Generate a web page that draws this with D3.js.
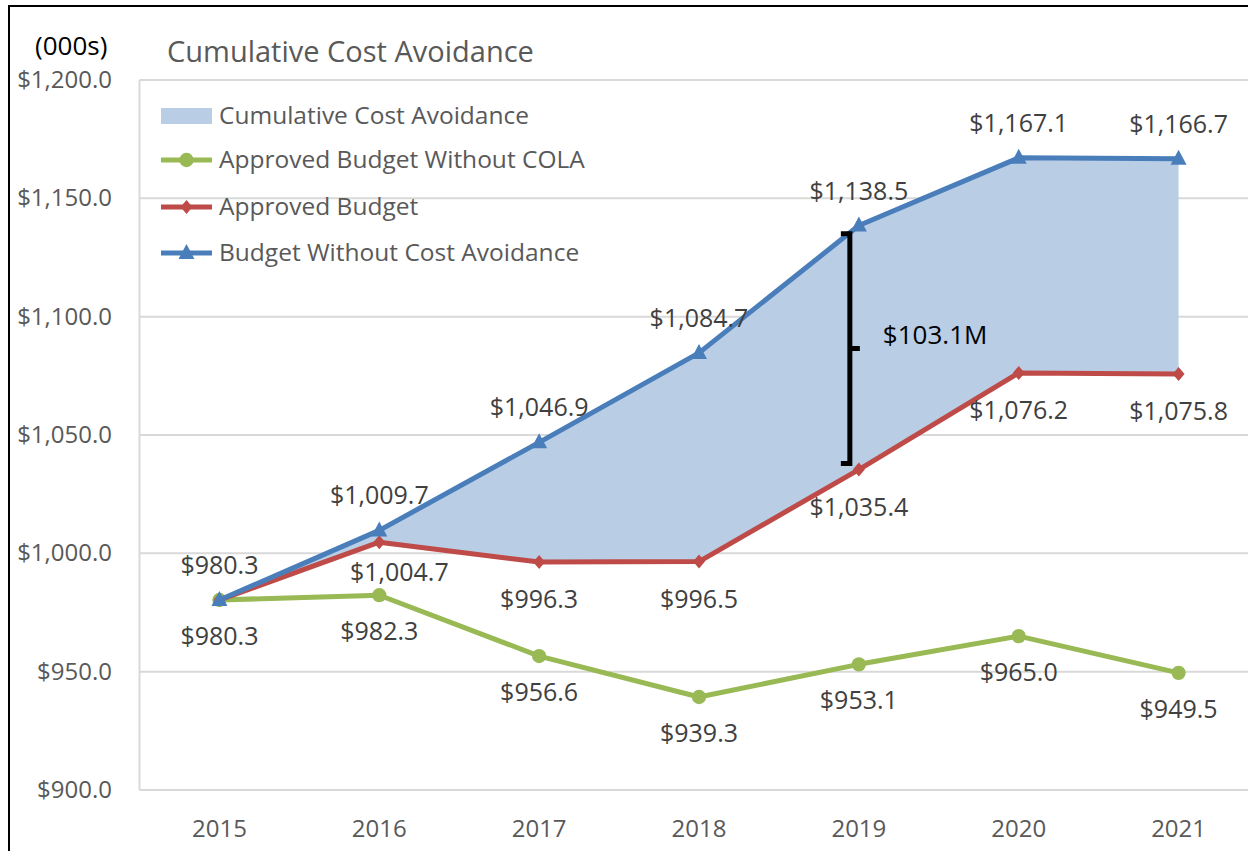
<!DOCTYPE html>
<html>
<head>
<meta charset="utf-8">
<script src="https://cdn.jsdelivr.net/npm/d3@7"></script>
<style>
  html, body { margin: 0; padding: 0; background: #fff; }
  svg { display: block; font-family: "Open Sans", sans-serif; }
</style>
</head>
<body>
<div id="chart"></div>
<script>
var years         = ["2015","2016","2017","2018","2019","2020","2021"];
var budgetNoAvoid = [980.3, 1009.7, 1046.9, 1084.7, 1138.5, 1167.1, 1166.7];
var approved      = [980.3, 1004.7, 996.3, 996.5, 1035.4, 1076.2, 1075.8];
var noCola        = [980.3, 982.3, 956.6, 939.3, 953.1, 965.0, 949.5];
var yTicks        = [900, 950, 1000, 1050, 1100, 1150, 1200];
var bracketRange  = [1135, 1038];   // the "$103.1M" annotation, 2019
var bracketText   = "$103.1M";

var width = 1248, height = 851;
var colBlue = "#4a7ebb", colRed = "#be4b48", colGreen = "#98b954", colArea = "#b9cde5";
var txtGray = "#595959", lblGray = "#404040";

var svg = d3.select("#chart").append("svg")
	.attr("width", width)
	.attr("height", height);

svg.append("rect").attr("width", width).attr("height", height).attr("fill", "#fff");

// outer frame
svg.append("rect")
	.attr("x", 9).attr("y", 6)
	.attr("width", 1260).attr("height", 870)
	.attr("fill", "none").attr("stroke", "#000").attr("stroke-width", 2);

var x = d3.scaleBand().domain(years).range([139.5, 1258.5]);
var y = d3.scaleLinear().domain([900, 1200]).range([790, 80]);
var cx = function(d){ return x(d) + x.bandwidth()/2; };

// gridlines
svg.append("g").selectAll("line")
	.data(yTicks)
	.enter().append("line")
	.attr("x1", 139.5).attr("x2", 1258.5)
	.attr("y1", function(d){ return y(d); })
	.attr("y2", function(d){ return y(d); })
	.attr("stroke", "#d9d9d9").attr("stroke-width", 2);

svg.append("line")
	.attr("x1", 139.5).attr("x2", 139.5)
	.attr("y1", y(1200)).attr("y2", y(900))
	.attr("stroke", "#d9d9d9").attr("stroke-width", 2);

// y tick labels
svg.append("g").selectAll("text")
	.data(yTicks)
	.enter().append("text")
	.attr("x", 112)
	.attr("y", function(d){ return y(d) + 8; })
	.attr("text-anchor", "end")
	.attr("font-size", 24)
	.attr("fill", txtGray)
	.text(function(d){ return "$" + d3.format(",.1f")(d); });

// x tick labels
svg.append("g").selectAll("text")
	.data(years)
	.enter().append("text")
	.attr("x", function(d){ return cx(d); })
	.attr("y", 837)
	.attr("text-anchor", "middle")
	.attr("font-size", 24)
	.attr("fill", txtGray)
	.text(function(d){ return d; });

// area between approved and budget without cost avoidance
var areaData = years.map(function(d, i){ return {year: d, lo: approved[i], hi: budgetNoAvoid[i]}; });
svg.append("path")
	.datum(areaData)
	.attr("fill", colArea)
	.attr("d", d3.area()
		.x(function(d){ return cx(d.year); })
		.y0(function(d){ return y(d.lo); })
		.y1(function(d){ return y(d.hi); }));

var lineGen = d3.line()
	.x(function(d){ return cx(d.year); })
	.y(function(d){ return y(d.v); });

function drawSeries(values, color, marker) {
	var pts = years.map(function(d, i){ return {year: d, v: values[i]}; });
	svg.append("path")
		.datum(pts)
		.attr("fill", "none")
		.attr("stroke", color)
		.attr("stroke-width", 5)
		.attr("stroke-linejoin", "round")
		.attr("d", lineGen);
	svg.append("g").selectAll("path")
		.data(pts)
		.enter().append("path")
		.attr("transform", function(d){ return "translate(" + cx(d.year) + "," + y(d.v) + ")"; })
		.attr("d", marker)
		.attr("fill", color);
}

var circleSym   = d3.symbol().type(d3.symbolCircle).size(160)();
var diamondSym  = "M0,-7L6,0L0,7L-6,0Z";
var triangleSym = "M0,-9L8,6L-8,6Z";

drawSeries(noCola, colGreen, circleSym);
drawSeries(approved, colRed, diamondSym);
drawSeries(budgetNoAvoid, colBlue, triangleSym);

// data labels
function drawLabels(values, dy, skip, tweak) {
	svg.append("g").selectAll("text")
		.data(years.map(function(d, i){ return {year: d, v: values[i], i: i}; })
			.filter(function(d){ return skip.indexOf(d.i) < 0; }))
		.enter().append("text")
		.attr("x", function(d){ return cx(d.year) + ((tweak[d.i] || [0,0])[0]); })
		.attr("y", function(d){ return y(d.v) + dy + ((tweak[d.i] || [0,0])[1]); })
		.attr("text-anchor", "middle")
		.attr("font-size", 25)
		.attr("fill", lblGray)
		.text(function(d){ return "$" + d3.format(",.1f")(d.v); });
}

drawLabels(budgetNoAvoid, -26, [], {});
drawLabels(approved, 46, [0], {1: [20, -7]});
drawLabels(noCola, 45, [], {});

// bracket annotation
var bx = cx("2019") - 9;
var by0 = y(bracketRange[0]), by1 = y(bracketRange[1]);
svg.append("path")
	.attr("d", "M" + (bx - 9) + "," + by0 + "H" + bx + "V" + by1 + "H" + (bx - 9)
		+ "M" + bx + "," + ((by0 + by1)/2) + "H" + (bx + 10))
	.attr("fill", "none")
	.attr("stroke", "#000")
	.attr("stroke-width", 5);
svg.append("text")
	.attr("x", bx + 33)
	.attr("y", (by0 + by1)/2 - 5)
	.attr("font-size", 26)
	.attr("fill", "#000")
	.text(bracketText);

// title and unit
svg.append("text")
	.attr("x", 167).attr("y", 62)
	.attr("font-size", 29)
	.attr("fill", txtGray)
	.text("Cumulative Cost Avoidance");
svg.append("text")
	.attr("x", 35).attr("y", 55)
	.attr("font-size", 26)
	.attr("fill", "#000")
	.text("(000s)");

// legend
var legendItems = [
	{name: "Cumulative Cost Avoidance", type: "area"},
	{name: "Approved Budget Without COLA", color: colGreen, marker: circleSym},
	{name: "Approved Budget", color: colRed, marker: diamondSym},
	{name: "Budget Without Cost Avoidance", color: colBlue, marker: triangleSym}
];
var legendY = [116, 160, 207, 253];
var lg = svg.append("g").selectAll("g")
	.data(legendItems)
	.enter().append("g")
	.attr("transform", function(d, i){ return "translate(161," + legendY[i] + ")"; });
lg.each(function(d){
	var g = d3.select(this);
	if (d.type == "area") {
		g.append("rect").attr("x", 0).attr("y", -8).attr("width", 51).attr("height", 16).attr("fill", colArea);
	} else {
		g.append("line").attr("x1", 0).attr("x2", 51).attr("stroke", d.color).attr("stroke-width", 5);
		g.append("path").attr("transform", "translate(25.5,0)").attr("d", d.marker).attr("fill", d.color);
	}
	g.append("text")
		.attr("x", 58).attr("y", 8)
		.attr("font-size", 24.5)
		.attr("fill", txtGray)
		.text(d.name);
});
</script>
</body>
</html>
